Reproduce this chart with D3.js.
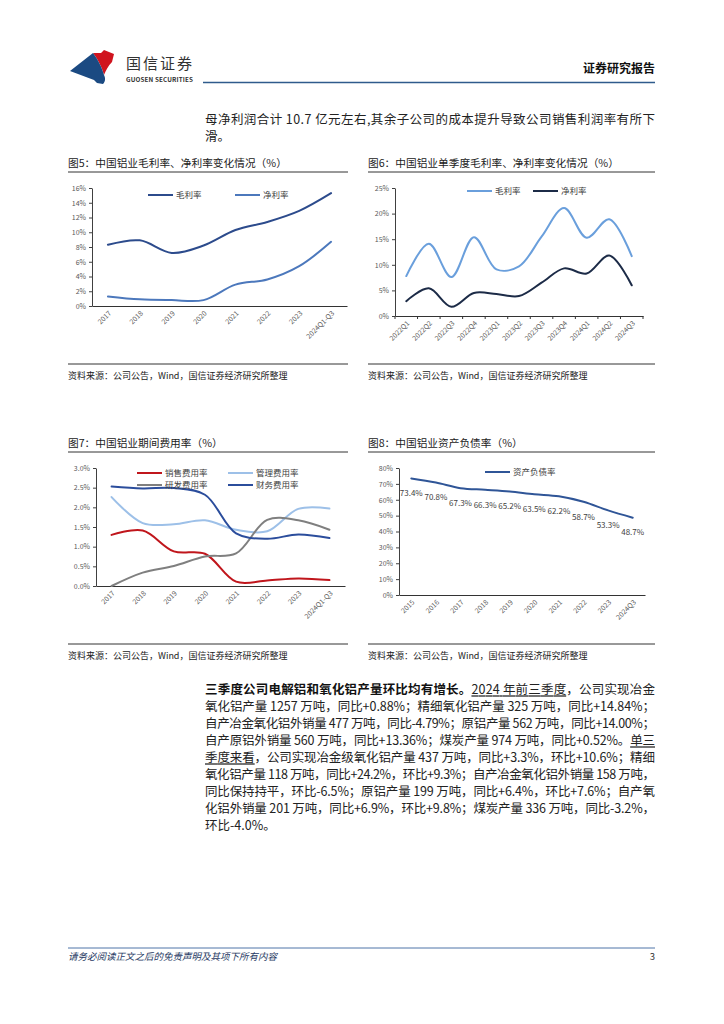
<!DOCTYPE html>
<html><head><meta charset="utf-8">
<script src="https://cdn.jsdelivr.net/npm/d3@7"></script>
<style>body{margin:0;background:#fff}svg{display:block}</style>
</head><body><svg id="page" width="724" height="1024"></svg>
<script>
// ---------- data ----------
const fig5Categories = ["2017","2018","2019","2020","2021","2022","2023","2024Q1-Q3"];
const fig5GrossMargin = [8.3, 8.9, 7.2, 8.2, 10.3, 11.4, 12.9, 15.3];
const fig5NetMargin = [1.3, 0.9, 0.8, 0.8, 2.9, 3.6, 5.4, 8.7];
const fig5Ticks = [0, 2, 4, 6, 8, 10, 12, 14, 16];

const fig6Categories = ["2022Q1","2022Q2","2022Q3","2022Q4","2023Q1","2023Q2","2023Q3","2023Q4","2024Q1","2024Q2","2024Q3"];
const fig6GrossMargin = [7.8, 14.1, 7.6, 15.4, 9.1, 9.7, 15.5, 21.1, 15.3, 18.9, 11.7];
const fig6NetMargin = [2.9, 5.4, 1.8, 4.5, 4.3, 3.9, 6.5, 9.3, 8.3, 11.8, 6.0];
const fig6Ticks = [0, 5, 10, 15, 20, 25];

const fig7Categories = ["2017","2018","2019","2020","2021","2022","2023","2024Q1-Q3"];
const fig7Selling = [1.30, 1.41, 0.88, 0.82, 0.11, 0.14, 0.19, 0.15];
const fig7Admin = [2.26, 1.60, 1.57, 1.67, 1.43, 1.39, 1.96, 1.97];
const fig7RD = [0.00, 0.34, 0.51, 0.75, 0.83, 1.68, 1.67, 1.43];
const fig7Finance = [2.53, 2.48, 2.49, 2.32, 1.34, 1.20, 1.31, 1.22];
const fig7Ticks = [0, 0.5, 1.0, 1.5, 2.0, 2.5, 3.0];

const fig8Categories = ["2015","2016","2017","2018","2019","2020","2021","2022","2023","2024Q3"];
const fig8DebtRatio = [73.4, 70.8, 67.3, 66.3, 65.2, 63.5, 62.2, 58.7, 53.3, 48.7];
const fig8Ticks = [0, 10, 20, 30, 40, 50, 60, 70, 80];

const sourceText = "资料来源：公司公告，Wind，国信证券经济研究所整理";

// ---------- page ----------
const FONT = "'Noto Sans CJK SC','Noto Sans',sans-serif";
const svg = d3.select("#page").attr("font-family", FONT);
svg.append("rect").attr("width",724).attr("height",1024).attr("fill","#fff");

function text(x, y, s, o = {}) {
  const t = svg.append("text").attr("x", x).attr("y", y).attr("dy","0.35em")
    .attr("font-size", o.size || 12).attr("fill", o.fill || "#222")
    .attr("text-anchor", o.anchor || "start").text(s);
  if (o.weight) t.attr("font-weight", o.weight);
  if (o.style) t.attr("font-style", o.style);
  if (o.len) t.attr("textLength", o.len).attr("lengthAdjust","spacing");
  return t;
}
function hline(x1, x2, y, color, w) {
  svg.append("line").attr("x1",x1).attr("x2",x2).attr("y1",y).attr("y2",y)
    .attr("stroke",color).attr("stroke-width",w);
}

// logo
svg.append("path").attr("d","M93,53 L101,53 L104,50 L114,54 L112,62 C108,66 106,70 104,75 C102,68 99,61 93,53 Z").attr("fill","#d0141e");
svg.append("path").attr("d","M70,71 L93,53 C99,61 102,68 104,75 C106,79 105,82 103,84 L97,83 L94,80 Z").attr("fill","#1b4a82");
text(126, 64, "国信证券", {size:15, fill:"#333"}).attr("letter-spacing", 2);
text(126, 79.5, "GUOSEN SECURITIES", {size:6.3, fill:"#333", weight:"bold", len:67});
text(655, 69, "证券研究报告", {size:12, weight:"bold", anchor:"end", fill:"#111"});
hline(203, 655, 82.5, "#2f5b8c", 1.6);

// intro text
text(205, 120, "母净利润合计 10.7 亿元左右,其余子公司的成本提升导致公司销售利润率有所下", {size:12.5, len:450});
text(205, 137, "滑。", {size:12.5});

// ---------- chart helper ----------
function drawChart(cfg) {
  const g = svg.append("g");
  const x = d3.scaleBand().domain(cfg.cats).range([cfg.x0, cfg.x1]);
  const y = d3.scaleLinear().domain([0, cfg.max]).range([cfg.yBot, cfg.yTop]);
  const cx = c => x(c) + x.bandwidth() / 2;

  const ya = g.append("g").attr("transform", `translate(${cfg.x0},0)`)
    .call(d3.axisLeft(y).tickValues(cfg.ticks).tickFormat(cfg.fmt).tickSize(3).tickSizeOuter(0));
  ya.attr("font-family", FONT).attr("font-size", 7);
  ya.select(".domain").attr("stroke", "#404040");
  ya.selectAll(".tick line").attr("stroke", "#404040");
  ya.selectAll("text").attr("fill", "#595959");

  const xa = g.append("g").attr("transform", `translate(0,${cfg.yBot})`)
    .call(d3.axisBottom(x).tickSize(0).tickSizeOuter(0));
  xa.attr("font-family", FONT).attr("font-size", 7);
  xa.select(".domain").attr("stroke", "#333").attr("stroke-width", 1.2);
  xa.selectAll("text").attr("fill", "#595959").attr("y", 0).attr("dy", "0.35em")
    .attr("text-anchor", "end").attr("transform", "translate(2,6) rotate(-45)");
  if (cfg.boundaryTicks) {
    cfg.cats.concat([null]).forEach((c, i) => {
      const bx = c === null ? cfg.x1 : x(c);
      g.append("line").attr("x1", bx).attr("x2", bx).attr("y1", cfg.yBot).attr("y2", cfg.yBot + 3)
        .attr("stroke", "#333");
    });
  }

  const line = d3.line().x((d, i) => cx(cfg.cats[i])).y(d => y(d)).curve(d3.curveCatmullRom.alpha(0.5));
  cfg.series.forEach(s => {
    g.append("path").attr("d", line(s.vals)).attr("fill", "none")
      .attr("stroke", s.color).attr("stroke-width", 2).attr("stroke-linecap","round");
  });

  if (cfg.valueLabels) {
    cfg.series[0].vals.forEach((v, i) => {
      g.append("text").attr("x", cx(cfg.cats[i])).attr("y", y(v) + 15).attr("dy", "0.35em")
        .attr("text-anchor", "middle").attr("font-size", 8).attr("fill", "#404040")
        .text(v.toFixed(1) + "%");
    });
  }

  cfg.series.forEach(s => {
    const L = s.legend;
    g.append("line").attr("x1", L.x).attr("x2", L.x + 25).attr("y1", L.y).attr("y2", L.y)
      .attr("stroke", s.color).attr("stroke-width", 2);
    g.append("text").attr("x", L.x + 28).attr("y", L.y).attr("dy", "0.35em")
      .attr("font-size", 8.5).attr("fill", "#404040").text(s.name);
  });
}

// ---------- titles, source lines ----------
function figFrame(x1, x2, titleY, title, srcLineY) {
  text(x1, titleY, title, {size:10.7, fill:"#222"});
  hline(x1, x2, titleY + 9, "#333", 1);
  hline(x1, x2, srcLineY, "#333", 1);
  text(x1, srcLineY + 11.5, sourceText, {size:9, fill:"#222"});
}
figFrame(68, 348, 163, "图5：中国铝业毛利率、净利率变化情况（%）", 364);
figFrame(368, 655, 163, "图6：中国铝业单季度毛利率、净利率变化情况（%）", 364);
figFrame(68, 348, 443, "图7：中国铝业期间费用率（%）", 644);
figFrame(368, 655, 443, "图8：中国铝业资产负债率（%）", 644);

drawChart({
  cats: fig5Categories, x0: 92, x1: 347, yTop: 188, yBot: 306, max: 16,
  ticks: fig5Ticks, fmt: d => d + "%",
  series: [
    {name: "毛利率", vals: fig5GrossMargin, color: "#2c4b8c", legend: {x:148, y:195}},
    {name: "净利率", vals: fig5NetMargin, color: "#4c78bc", legend: {x:235, y:195}}
  ]
});
drawChart({
  cats: fig6Categories, x0: 395, x1: 643, yTop: 188, yBot: 316, max: 25,
  ticks: fig6Ticks, fmt: d => d + "%", boundaryTicks: true,
  series: [
    {name: "毛利率", vals: fig6GrossMargin, color: "#6a9fdc", legend: {x:467, y:191}},
    {name: "净利率", vals: fig6NetMargin, color: "#1c2b47", legend: {x:533, y:191}}
  ]
});
drawChart({
  cats: fig7Categories, x0: 96, x1: 345, yTop: 468, yBot: 586, max: 3,
  ticks: fig7Ticks, fmt: d => d.toFixed(1) + "%",
  series: [
    {name: "销售费用率", vals: fig7Selling, color: "#c0161c", legend: {x:137, y:473}},
    {name: "管理费用率", vals: fig7Admin, color: "#9dc0e8", legend: {x:228, y:473}},
    {name: "研发费用率", vals: fig7RD, color: "#7f7f7f", legend: {x:137, y:485}},
    {name: "财务费用率", vals: fig7Finance, color: "#2b4d9c", legend: {x:228, y:485}}
  ]
});
drawChart({
  cats: fig8Categories, x0: 399, x1: 645, yTop: 468, yBot: 595, max: 80,
  ticks: fig8Ticks, fmt: d => d + "%", valueLabels: true,
  series: [
    {name: "资产负债率", vals: fig8DebtRatio, color: "#2f5597", legend: {x:485, y:472}}
  ]
});

// ---------- paragraph ----------
const paraLines = [
  [["三季度公司电解铝和氧化铝产量环比均有增长。","b"],["2024 年前三季度","u"],["，公司实现冶金",""]],
  [["氧化铝产量 1257 万吨，同比+0.88%；精细氧化铝产量 325 万吨，同比+14.84%；",""]],
  [["自产冶金氧化铝外销量 477 万吨，同比-4.79%；原铝产量 562 万吨，同比+14.00%；",""]],
  [["自产原铝外销量 560 万吨，同比+13.36%；煤炭产量 974 万吨，同比+0.52%。",""],["单三","u"]],
  [["季度来看","u"],["，公司实现冶金级氧化铝产量 437 万吨，同比+3.3%，环比+10.6%；精细",""]],
  [["氧化铝产量 118 万吨，同比+24.2%，环比+9.3%；自产冶金氧化铝外销量 158 万吨，",""]],
  [["同比保持持平，环比-6.5%；原铝产量 199 万吨，同比+6.4%，环比+7.6%；自产氧",""]],
  [["化铝外销量 201 万吨，同比+6.9%，环比+9.8%；煤炭产量 336 万吨，同比-3.2%，",""]],
  [["环比-4.0%。",""]]
];
paraLines.forEach((parts, i) => {
  const t = svg.append("text").attr("x", 205).attr("y", 690 + i * 17).attr("dy", "0.35em")
    .attr("font-size", 12.5).attr("fill", "#222");
  if (i < paraLines.length - 1) t.attr("textLength", 450).attr("lengthAdjust", "spacing");
  parts.forEach(([s, f]) => {
    const ts = t.append("tspan").text(s);
    if (f === "b") ts.attr("font-weight", "bold").attr("fill", "#111");
    if (f === "u") ts.style("text-decoration", "underline");
  });
});

// ---------- footer ----------
hline(68, 655, 948, "#4f74a8", 1);
text(68, 957, "请务必阅读正文之后的免责声明及其项下所有内容", {size:9.5, fill:"#1f3a63", style:"italic"});
text(655, 957, "3", {size:9.5, fill:"#333", anchor:"end"});
</script></body></html>
